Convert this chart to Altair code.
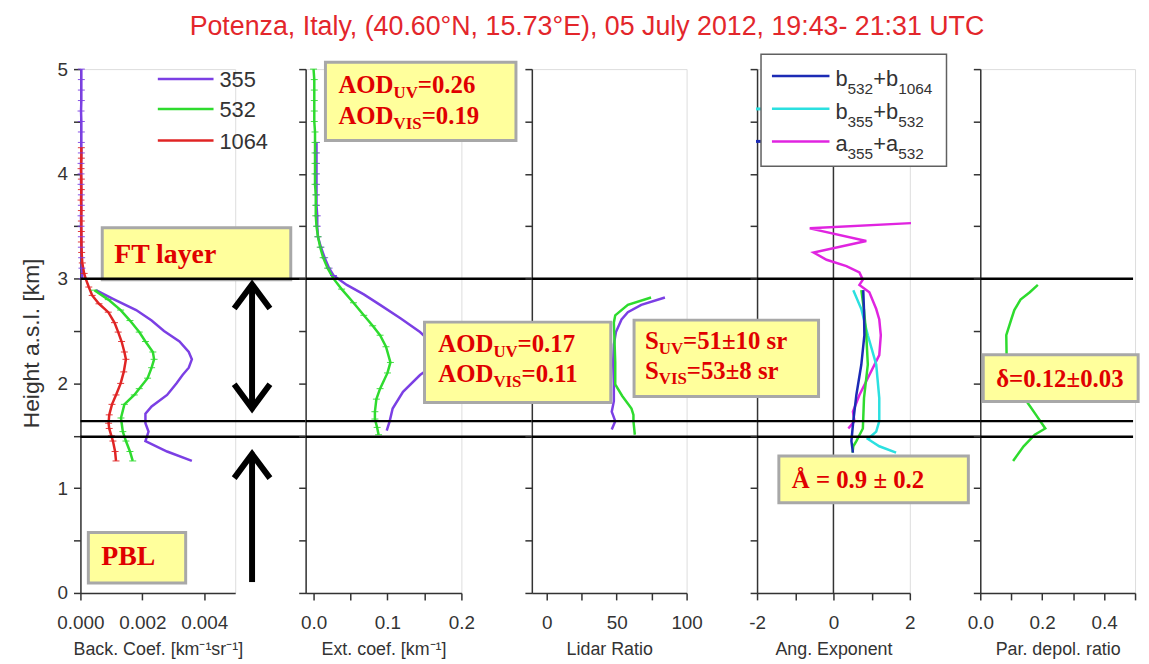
import altair as alt
import pandas as pd

TITLE = "Potenza, Italy, (40.60°N, 15.73°E), 05 July 2012, 19:43- 21:31 UTC"

# ---------------- data (height in km a.s.l.) ----------------
# Panel 1 : backscatter coefficient [km-1 sr-1]
b355_top_h = [5.0, 4.9, 4.8, 4.7, 4.6, 4.5, 4.4, 4.3, 4.2, 4.1, 4.0, 3.9, 3.8, 3.7, 3.6, 3.5, 3.4, 3.3, 3.2, 3.1, 3.0]
b355_top_v = [0.00003, 0.00003, 0.00003, 0.00003, 0.00002, 0.00003, 0.00003, 0.00003, 0.00003, 0.00002, 0.00002,
              0.00002, 0.00003, 0.00003, 0.00002, 0.00002, 0.00003, 0.00003, 0.00004, 0.00005, 0.00006]
b355_h = [2.89, 2.80, 2.70, 2.60, 2.50, 2.40, 2.30, 2.23, 2.15, 2.08, 2.00, 1.89, 1.78, 1.71, 1.62, 1.54, 1.45, 1.35, 1.26]
b355_v = [0.0005, 0.0011, 0.0018, 0.0023, 0.0027, 0.0032, 0.0035, 0.0036, 0.0035, 0.0033, 0.0031, 0.0028, 0.0023,
          0.0021, 0.0021, 0.0022, 0.0021, 0.0028, 0.0036]
b532_h = [2.89, 2.80, 2.70, 2.60, 2.49, 2.40, 2.30, 2.23, 2.15, 2.05, 1.95, 1.89, 1.80, 1.67, 1.54, 1.45, 1.35, 1.26]
b532_v = [0.00045, 0.0009, 0.0013, 0.0016, 0.0019, 0.0021, 0.00234, 0.00238, 0.0023, 0.00217, 0.0019, 0.00174,
          0.00142, 0.00131, 0.00137, 0.00147, 0.0016, 0.00169]
b1064_h = [4.25, 4.15, 4.05, 3.95, 3.85, 3.75, 3.65, 3.55, 3.45, 3.35, 3.25, 3.15, 3.05, 3.00, 2.92, 2.84, 2.76, 2.68,
           2.58, 2.49, 2.40, 2.30, 2.23, 2.11, 2.00, 1.89, 1.80, 1.70, 1.62, 1.57, 1.50, 1.45, 1.35, 1.26]
b1064_v = [0.00003, 0.00003, 0.00002, 0.00003, 0.00003, 0.00002, 0.00003, 0.00003, 0.00003, 0.00003, 0.00004,
           0.00006, 0.00012, 0.00017, 0.00027, 0.00038, 0.0006, 0.0009, 0.0011, 0.00122, 0.00133, 0.00142, 0.00147,
           0.0014, 0.0013, 0.00115, 0.00102, 0.00093, 0.00091, 0.00093, 0.0010, 0.00105, 0.00112, 0.00115]

# Panel 2 : extinction coefficient [km-1]
e532_h = [5.0, 4.9, 4.8, 4.7, 4.6, 4.5, 4.4, 4.3, 4.2, 4.1, 4.0, 3.9, 3.8, 3.7, 3.6, 3.5, 3.4, 3.3, 3.2, 3.1, 3.0,
          2.9, 2.77, 2.65, 2.55, 2.46, 2.35, 2.2, 2.1, 1.95, 1.85, 1.73, 1.66, 1.58, 1.51]
e532_v = [0.000, 0.001, 0.001, 0.001, 0.001, 0.001, 0.002, 0.002, 0.002, 0.002, 0.002, 0.002, 0.003, 0.003, 0.003,
          0.004, 0.006, 0.009, 0.013, 0.019, 0.027, 0.038, 0.054, 0.068, 0.080, 0.090, 0.098, 0.104, 0.100, 0.090,
          0.085, 0.083, 0.083, 0.086, 0.088]
e355_h = [4.3, 4.2, 4.1, 4.0, 3.9, 3.8, 3.7, 3.6, 3.5, 3.4, 3.3, 3.2, 3.1, 3.03, 2.94, 2.85, 2.75, 2.62, 2.49, 2.4,
          2.3, 2.22, 2.15, 2.08, 1.92, 1.76, 1.64, 1.55]
e355_v = [0.004, 0.004, 0.004, 0.004, 0.004, 0.004, 0.004, 0.005, 0.005, 0.006, 0.010, 0.015, 0.021, 0.027, 0.045,
          0.068, 0.090, 0.118, 0.144, 0.158, 0.166, 0.166, 0.158, 0.144, 0.121, 0.107, 0.103, 0.099]

# Panel 3 : lidar ratio [sr]
lr355_h = [2.82, 2.75, 2.68, 2.61, 2.49, 2.37, 2.2, 2.0, 1.83, 1.73, 1.64, 1.56]
lr355_v = [84.5, 67.6, 58.0, 53.5, 49.5, 48.0, 47.5, 48.0, 48.0, 46.5, 49.0, 46.5]
lr532_h = [2.82, 2.75, 2.65, 2.58, 2.4, 2.2, 1.99, 1.88, 1.76, 1.70, 1.64, 1.51]
lr532_v = [74.6, 58.0, 49.0, 48.0, 48.5, 49.0, 49.0, 54.0, 60.6, 62.0, 62.0, 63.0]

# Panel 4 : Angstrom exponents
ae_a_h = [3.53, 3.48, 3.36, 3.25, 3.18, 3.12, 3.06, 2.99, 2.94, 2.87, 2.71, 2.61, 2.46, 2.27, 2.08, 1.89, 1.73, 1.64, 1.57]
ae_a_v = [2.03, -0.62, 0.86, -0.52, -0.18, 0.34, 0.68, 0.77, 0.68, 0.94, 1.12, 1.2, 1.24, 1.2, 0.94, 0.68, 0.51, 0.55, 0.39]
ae_b1_h = [2.89, 2.70, 2.46, 2.18, 1.89, 1.64, 1.45, 1.34]
ae_b1_v = [0.78, 0.80, 0.81, 0.73, 0.60, 0.52, 0.47, 0.51]
ae_b2_h = [2.89, 2.71, 2.46, 2.18, 1.86, 1.64, 1.54, 1.47, 1.40, 1.34]
ae_b2_v = [0.52, 0.73, 0.90, 1.12, 1.20, 1.20, 1.12, 0.90, 1.20, 1.64]
ae_g_h = [2.89, 2.70, 2.46, 2.18, 1.86, 1.57, 1.45, 1.40, 1.34]
ae_g_v = [0.73, 0.80, 0.86, 0.90, 0.80, 0.77, 0.60, 0.52, 0.50]
ae_iso_h = [4.62, 4.31]
ae_iso_v = [-1.95, -1.95]
ae_iso_s = ["b355+b532", "b532+b1064"]

# Panel 5 : particle depolarization ratio
dp_h = [2.94, 2.87, 2.80, 2.70, 2.61, 2.46, 2.27, 2.10, 1.95, 1.81, 1.70, 1.57, 1.51, 1.40, 1.26]
dp_v = [0.186, 0.16, 0.13, 0.11, 0.10, 0.084, 0.085, 0.10, 0.125, 0.154, 0.18, 0.21, 0.176, 0.14, 0.106]

layer_heights = [3.0, 1.64, 1.49]

# ---------------- styling ----------------
SANS = "Liberation Sans"
SERIF = "Liberation Serif"
AXC = "#333333"
RED = "#E00000"
YEL = "#FFFF9C"
BOXC = "#A8A8A8"
H = 528
SP = 71

series_names = ["355", "532", "1064", "b532+b1064", "b355+b532", "a355+a532", "ae532", "depol"]
series_cols = ["#7B3FE4", "#2EDB2E", "#E02424", "#1C2BB5", "#2BE0E0", "#E024E0", "#2EDB2E", "#2EDB2E"]
COLOR = alt.Color("s:N", scale=alt.Scale(domain=series_names, range=series_cols), legend=None)


def prof(name, seg, hs, vs):
    return pd.DataFrame({"h": hs, "v": vs, "s": name, "seg": seg, "o": list(range(len(hs)))})


def axis_common():
    return dict(grid=False, domainColor=AXC, tickColor=AXC, domainWidth=1.5, tickWidth=1.5, tickSize=7,
                labelFont=SANS, labelColor=AXC, labelFontSize=19, labelOverlap=False,
                titleFont=SANS, titleColor=AXC, titleFontWeight="normal")


def make_x(dom, ticks, expr, title):
    ax = alt.Axis(values=ticks, labelExpr=expr, title=title, labelFlush=False, labelPadding=14,
                  titleFontSize=18, titlePadding=8, **axis_common())
    return alt.X("v:Q", scale=alt.Scale(domain=dom, nice=False, zero=False), axis=ax)


YT = [0, 0.5, 1, 1.5, 2, 2.5, 3, 3.5, 4, 4.5, 5]


def make_y(first):
    if first:
        ax = alt.Axis(values=YT, labelExpr="datum.value % 1 == 0 ? '' + datum.value : ''",
                      title="Height a.s.l. [km]", titleFontSize=23, titlePadding=14, labelPadding=6,
                      titleY=276, **axis_common())
    else:
        ax = alt.Axis(values=YT, labels=False, title=None, **axis_common())
    return alt.Y("h:Q", scale=alt.Scale(domain=[0, 5], nice=False, zero=False), axis=ax)


def lines(df, X, Y, sw=2.5):
    return alt.Chart(df).mark_line(strokeWidth=sw).encode(x=X, y=Y, color=COLOR, detail="seg:N", order="o:Q")


def errticks(df, X, Y):
    return alt.Chart(df).mark_point(shape="stroke", size=49, strokeWidth=1, opacity=0.9).encode(
        x=X, y=Y, color=COLOR)


def box(X, Y, v1, v2, h1, h2, fill=YEL, stroke=BOXC, sw=3):
    df = pd.DataFrame({"v": [v1], "v2": [v2], "h": [h1], "h2": [h2]})
    return alt.Chart(df).mark_rect(fill=fill, stroke=stroke, strokeWidth=sw).encode(
        x=X, x2="v2:Q", y=Y, y2="h2:Q")


def txt(X, Y, v, h, text, size, dx=0, dy=0, font=SERIF, weight="bold", color=RED):
    df = pd.DataFrame({"v": [v], "h": [h], "t": [text]})
    return alt.Chart(df).mark_text(align="left", baseline="alphabetic", dx=dx, dy=dy, font=font,
                                   fontSize=size, fontWeight=weight, color=color).encode(x=X, y=Y, text="t:N")


def hrules(Y, x2):
    df = pd.DataFrame({"h": layer_heights})
    return alt.Chart(df).mark_rule(color="black", strokeWidth=2.5).encode(
        x=alt.value(0), x2=alt.value(x2), y=Y)


# ---------------- panel 1 ----------------
W1 = 156
X1 = make_x([0, 0.005], [0, 0.001, 0.002, 0.003, 0.004, 0.005],
            "round(datum.value*1000) % 2 == 0 && datum.value < 0.0045 ? format(datum.value, '.3f') : ''",
            "Back. Coef. [km⁻¹sr⁻¹]")
Y1 = make_y(True)
p1_df = pd.concat([prof("355", "a", b355_top_h, b355_top_v), prof("355", "b", b355_h, b355_v),
                   prof("532", "c", b532_h, b532_v), prof("1064", "d", b1064_h, b1064_v)])
p1_err = p1_df[p1_df["seg"] != "b"]
leg1 = pd.DataFrame({"s": ["355", "532", "1064"], "h": [4.905, 4.62, 4.318],
                     "v": [0.0025] * 3, "v2": [0.0043] * 3, "t": ["355", "532", "1064"]})
ARR_X = 0.005545
shaft = pd.DataFrame({"v": [ARR_X, ARR_X], "h": [2.90, 1.30], "h2": [1.80, 0.104]})
head_up = pd.DataFrame({"v": [ARR_X, ARR_X], "h": [2.945, 1.326]})
head_dn = pd.DataFrame({"v": [ARR_X], "h": [1.761]})
UP = "M-1,1.35L0,0L1,1.35"
DN = "M-1,-1.35L0,0L1,-1.35"

p1 = alt.layer(
    lines(p1_df, X1, Y1),
    errticks(p1_err, X1, Y1),
    alt.Chart(leg1).mark_rule(strokeWidth=2.5).encode(x=X1, x2="v2:Q", y=Y1, color=COLOR),
    alt.Chart(leg1).mark_text(align="left", baseline="alphabetic", dx=6, dy=8, font=SANS, fontSize=22,
                              color=AXC).encode(x=alt.X("v2:Q", scale=alt.Scale(domain=[0, 0.005], nice=False)),
                                                y=Y1, text="t:N"),
    box(X1, Y1, 0.000705, 0.006795, 3.485, 2.99),
    txt(X1, Y1, 0.00109, 3.15, "FT layer", 28),
    box(X1, Y1, 0.000256, 0.0034, 0.578, 0.095),
    txt(X1, Y1, 0.000673, 0.265, "PBL", 28),
    alt.Chart(shaft).mark_rule(color="black", strokeWidth=6).encode(x=X1, y=Y1, y2="h2:Q"),
    alt.Chart(head_up).mark_point(shape=UP, size=1296, filled=False, strokeWidth=6, color="black",
                                  opacity=1, strokeJoin="miter").encode(x=X1, y=Y1),
    alt.Chart(head_dn).mark_point(shape=DN, size=1296, filled=False, strokeWidth=6, color="black",
                                  opacity=1, strokeJoin="miter").encode(x=X1, y=Y1),
    hrules(Y1, W1 + SP),
).properties(width=W1, height=H)

# ---------------- panel 2 ----------------
W2 = 157
X2 = make_x([-0.0107, 0.2], [0, 0.05, 0.1, 0.15, 0.2],
            "round(datum.value*100) % 10 == 0 ? format(datum.value, '.1f') : ''", "Ext. coef. [km⁻¹]")
Y2 = make_y(False)
p2_df = pd.concat([prof("355", "a", e355_h, e355_v), prof("532", "b", e532_h, e532_v)])
p2_err = p2_df[(p2_df["s"] == "532") | (p2_df["h"] >= 3.0)]
F, f = 25, 17
p2 = alt.layer(
    lines(p2_df, X2, Y2),
    errticks(p2_err, X2, Y2),
    hrules(Y2, W2 + SP),
    box(X2, Y2, 0.0161, 0.2738, 5.066, 4.318),
    txt(X2, Y2, 0.0336, 4.773, "AOD", F),
    txt(X2, Y2, 0.0336, 4.773, "UV", f, dx=55.6, dy=5),
    txt(X2, Y2, 0.0336, 4.773, "=0.26", F, dx=80),
    txt(X2, Y2, 0.0336, 4.479, "AOD", F),
    txt(X2, Y2, 0.0336, 4.479, "VIS", f, dx=55.6, dy=5),
    txt(X2, Y2, 0.0336, 4.479, "=0.19", F, dx=84),
).properties(width=W2, height=H)

# ---------------- panel 3 ----------------
W3 = 156
X3 = make_x([-10.6, 100], [0, 25, 50, 75, 100], "datum.value % 50 == 0 ? '' + datum.value : ''", "Lidar Ratio")
Y3 = make_y(False)
p3_df = pd.concat([prof("355", "a", lr355_h, lr355_v), prof("532", "b", lr532_h, lr532_v)])
p3 = alt.layer(
    lines(p3_df, X3, Y3),
    hrules(Y3, W3 + SP),
    box(X3, Y3, -87.3, 45.8, 2.585, 1.818),
    txt(X3, Y3, -77.5, 2.301, "AOD", F),
    txt(X3, Y3, -77.5, 2.301, "UV", f, dx=55.6, dy=5),
    txt(X3, Y3, -77.5, 2.301, "=0.17", F, dx=80),
    txt(X3, Y3, -77.5, 2.017, "AOD", F),
    txt(X3, Y3, -77.5, 2.017, "VIS", f, dx=55.6, dy=5),
    txt(X3, Y3, -77.5, 2.017, "=0.11", F, dx=84),
).properties(width=W3, height=H)

# ---------------- panel 4 ----------------
W4 = 154
X4 = make_x([-2, 2], [-2, -1, 0, 1, 2], "datum.value % 2 == 0 ? '' + datum.value : ''", "Ang. Exponent")
Y4 = make_y(False)
p4_df = pd.concat([prof("a355+a532", "a", ae_a_h, ae_a_v), prof("b355+b532", "b", ae_b2_h, ae_b2_v),
                   prof("ae532", "c", ae_g_h, ae_g_v), prof("b532+b1064", "d", ae_b1_h, ae_b1_v)])
iso = pd.DataFrame({"h": ae_iso_h, "v": ae_iso_v, "s": ae_iso_s})
zero_line = pd.DataFrame({"v": [0], "h": [0], "h2": [5]})
leg4 = pd.DataFrame({"s": ["b532+b1064", "b355+b532", "a355+a532"], "h": [4.934, 4.621, 4.309],
                     "v": [-1.61] * 3, "v2": [-0.104] * 3})
LX = 0.052
Fm, Fs = 22, 15.5
leg_txt = []
for hh, parts in [(4.934, ("b", "532", "+b", "1064")), (4.621, ("b", "355", "+b", "532")),
                  (4.309, ("a", "355", "+a", "532"))]:
    leg_txt += [
        txt(X4, Y4, LX, hh, parts[0], Fm, dy=10, font=SANS, weight="normal", color=AXC),
        txt(X4, Y4, LX, hh, parts[1], Fs, dx=12.2, dy=18, font=SANS, weight="normal", color=AXC),
        txt(X4, Y4, LX, hh, parts[2], Fm, dx=38.1, dy=10, font=SANS, weight="normal", color=AXC),
        txt(X4, Y4, LX, hh, parts[3], Fs, dx=63.2, dy=18, font=SANS, weight="normal", color=AXC),
    ]
p4 = alt.layer(
    alt.Chart(zero_line).mark_rule(color=AXC, strokeWidth=1.5).encode(x=X4, y=Y4, y2="h2:Q"),
    lines(p4_df, X4, Y4),
    alt.Chart(iso).mark_point(shape="stroke", size=36, strokeWidth=3, opacity=1).encode(x=X4, y=Y4, color=COLOR),
    hrules(Y4, W4 + SP),
    box(X4, Y4, -1.896, 2.96, 5.142, 4.072, fill="white", stroke="#606060", sw=1.5),
    alt.Chart(leg4).mark_rule(strokeWidth=2.5).encode(x=X4, x2="v2:Q", y=Y4, color=COLOR),
    *leg_txt,
    box(X4, Y4, -5.22, -0.39, 2.604, 1.875),
    txt(X4, Y4, -4.935, 2.33, "S", F),
    txt(X4, Y4, -4.935, 2.33, "UV", f, dx=13.9, dy=5),
    txt(X4, Y4, -4.935, 2.33, "=51±10 sr", F, dx=38.4),
    txt(X4, Y4, -4.935, 2.045, "S", F),
    txt(X4, Y4, -4.935, 2.045, "VIS", f, dx=13.9, dy=5),
    txt(X4, Y4, -4.935, 2.045, "=53±8 sr", F, dx=42.2),
    box(X4, Y4, -1.429, 3.532, 1.307, 0.862),
    txt(X4, Y4, -1.091, 1.004, "Å = 0.9 ± 0.2", F),
).properties(width=W4, height=H)

# ---------------- panel 5 ----------------
W5 = 156
X5 = make_x([0, 0.5], [0, 0.1, 0.2, 0.3, 0.4, 0.5],
            "round(datum.value*10) % 2 == 0 && datum.value < 0.45 ? format(datum.value, '.1f') : ''",
            "Par. depol. ratio")
Y5 = make_y(False)
p5_df = prof("depol", "a", dp_h, dp_v)
p5 = alt.layer(
    lines(p5_df, X5, Y5),
    hrules(Y5, W5 - 2),
    box(X5, Y5, 0.0096, 0.51, 2.273, 1.828),
    txt(X5, Y5, 0.0512, 1.97, "δ=0.12±0.03", F),
).properties(width=W5, height=H)

chart = alt.hconcat(p1, p2, p3, p4, p5, spacing=SP, bounds="flush").properties(
    title=alt.TitleParams(TITLE, font=SANS, fontSize=27, fontWeight="normal", color="#E3262B",
                          anchor="middle", offset=12, dx=7),
    padding={"left": 11, "top": 2, "right": 0, "bottom": 0},
).configure_view(stroke=None).configure(font=SANS)

chart.save("out.html", embed_options={"renderer": "svg", "actions": False})
